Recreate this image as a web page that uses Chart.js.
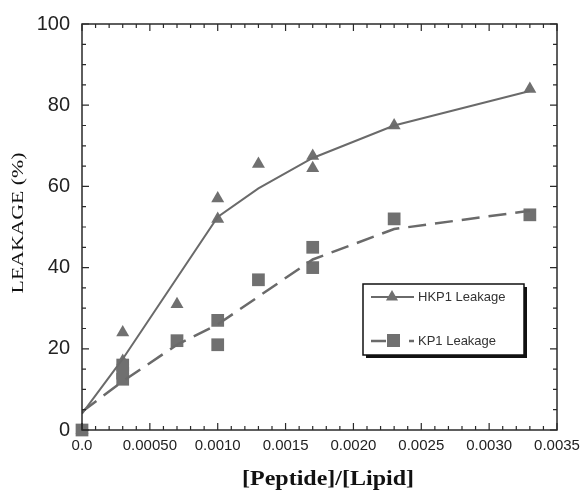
<!DOCTYPE html>
<html>
<head>
<meta charset="utf-8">
<title>Leakage</title>
<script src="https://cdn.jsdelivr.net/npm/chart.js@4.4.1/dist/chart.umd.min.js"></script>
<style>
  html, body { margin: 0; padding: 0; background: #fff; }
  #wrap { width: 584px; height: 490px; }
</style>
</head>
<body>
<div id="wrap"><canvas id="chart" width="584" height="490"></canvas></div>
<script>
// Data
const seriesNames = ["HKP1 Leakage", "KP1 Leakage"];

// HKP1 measured points (triangles)
const hkpX = [0, 0.0003, 0.0003, 0.0007, 0.0010, 0.0010, 0.0013, 0.0017, 0.0017, 0.0023, 0.0033];
const hkpY = [0, 24, 17, 31, 57, 52, 65.5, 67.5, 64.5, 75, 84];
// HKP1 curve (solid)
const hkpLineX = [0, 0.0003, 0.0010, 0.0013, 0.0017, 0.0023, 0.0033];
const hkpLineY = [4, 17.5, 52.5, 59.5, 67, 75, 83.5];

// KP1 measured points (squares)
const kpX = [0, 0.0003, 0.0003, 0.0003, 0.0007, 0.0010, 0.0010, 0.0013, 0.0017, 0.0017, 0.0023, 0.0033];
const kpY = [0, 16, 14, 12.5, 22, 27, 21, 37, 45, 40, 52, 53];
// KP1 curve (dashed)
const kpLineX = [0, 0.0003, 0.0007, 0.0010, 0.0017, 0.0023, 0.0033];
const kpLineY = [4.5, 12, 21, 26, 42, 49.5, 54];

const xTickLabels = ["0.0", "0.00050", "0.0010", "0.0015", "0.0020", "0.0025", "0.0030", "0.0035"];
const yTickLabels = ["0", "20", "40", "60", "80", "100"];

const xTitle = "[Peptide]/[Lipid]";
const yTitle = "LEAKAGE (%)";

const lineColor = "#6a6a6a";
const markColor = "#707070";
const frameColor = "#2a2a2a";

function toPoints(xs, ys) {
  return xs.map((x, i) => ({ x: x, y: ys[i] }));
}

// stretched text, the figure's fonts are wider than normal
function wideText(ctx, text, x, y, font, sx, rot) {
  ctx.save();
  ctx.translate(x, y);
  ctx.rotate(rot);
  ctx.scale(sx, 1);
  ctx.font = font;
  ctx.fillStyle = "#111";
  ctx.textAlign = "center";
  ctx.textBaseline = "alphabetic";
  ctx.fillText(text, 0, 0);
  ctx.restore();
}

function drawTri(ctx, x, y, r) {
  ctx.beginPath();
  ctx.moveTo(x, y - r);
  ctx.lineTo(x + r * 0.866, y + r * 0.5);
  ctx.lineTo(x - r * 0.866, y + r * 0.5);
  ctx.closePath();
  ctx.fill();
}

// frame, inward ticks, titles and legend
const decor = {
  id: "decor",
  afterDraw(chart) {
    const ctx = chart.ctx;
    const a = chart.chartArea;
    const xs = chart.scales.x, ys = chart.scales.y;

    ctx.save();
    ctx.strokeStyle = frameColor;
    ctx.lineWidth = 1.5;
    ctx.strokeRect(a.left, a.top, a.right - a.left, a.bottom - a.top);

    ctx.lineWidth = 1.2;
    ctx.beginPath();
    for (let i = 0; i <= 35; i++) {
      const px = xs.getPixelForValue(i * 0.0001);
      const len = i % 5 === 0 ? 7 : 4;
      ctx.moveTo(px, a.bottom); ctx.lineTo(px, a.bottom - len);
      ctx.moveTo(px, a.top); ctx.lineTo(px, a.top + len);
    }
    for (let i = 0; i <= 20; i++) {
      const py = ys.getPixelForValue(i * 5);
      const len = i % 4 === 0 ? 7 : 4;
      ctx.moveTo(a.left, py); ctx.lineTo(a.left + len, py);
      ctx.moveTo(a.right, py); ctx.lineTo(a.right - len, py);
    }
    ctx.stroke();
    ctx.restore();

    // axis titles
    wideText(ctx, xTitle, 328, 485, "bold 20px 'Liberation Serif', serif", 1.2, 0);
    wideText(ctx, yTitle, 23, 223, "16px 'Liberation Serif', serif", 1.36, -Math.PI / 2);

    // legend box with drop shadow
    const bx = 363, by = 284, bw = 161, bh = 71;
    ctx.save();
    ctx.fillStyle = "#111";
    ctx.fillRect(bx + 3, by + 3, bw, bh);
    ctx.fillStyle = "#fff";
    ctx.fillRect(bx, by, bw, bh);
    ctx.strokeStyle = "#111";
    ctx.lineWidth = 1.5;
    ctx.strokeRect(bx, by, bw, bh);

    // entry 1: solid line with triangle
    ctx.strokeStyle = lineColor;
    ctx.lineWidth = 2;
    ctx.beginPath();
    ctx.moveTo(371, 297); ctx.lineTo(414, 297);
    ctx.stroke();
    ctx.fillStyle = markColor;
    drawTri(ctx, 392, 297, 7);

    // entry 2: dashed line with square
    ctx.lineWidth = 2.5;
    ctx.beginPath();
    ctx.moveTo(371, 341); ctx.lineTo(386, 341);
    ctx.moveTo(409, 341); ctx.lineTo(414, 341);
    ctx.stroke();
    ctx.fillStyle = markColor;
    ctx.fillRect(387, 334, 13, 13);

    ctx.fillStyle = "#333";
    ctx.font = "13px 'Liberation Sans', Arial, sans-serif";
    ctx.textAlign = "left";
    ctx.textBaseline = "middle";
    ctx.fillText(seriesNames[0], 418, 297);
    ctx.fillText(seriesNames[1], 418, 341);
    ctx.restore();
  }
};

const chart = new Chart(document.getElementById("chart"), {
  type: "scatter",
  data: {
    datasets: [
      {
        label: seriesNames[0] + " fit",
        data: toPoints(hkpLineX, hkpLineY),
        showLine: true,
        borderColor: lineColor,
        borderWidth: 2,
        pointRadius: 0,
        fill: false,
        tension: 0
      },
      {
        label: seriesNames[1] + " fit",
        data: toPoints(kpLineX, kpLineY),
        showLine: true,
        borderColor: lineColor,
        borderWidth: 2.5,
        borderDash: [18, 9],
        pointRadius: 0,
        fill: false,
        tension: 0
      },
      {
        label: seriesNames[0],
        data: toPoints(hkpX, hkpY),
        pointStyle: "triangle",
        pointRadius: 7.5,
        backgroundColor: markColor,
        borderColor: markColor,
        borderWidth: 0,
        clip: 12
      },
      {
        label: seriesNames[1],
        data: toPoints(kpX, kpY),
        pointStyle: "rect",
        pointRadius: 9,
        backgroundColor: markColor,
        borderColor: markColor,
        borderWidth: 0,
        clip: 12
      }
    ]
  },
  options: {
    responsive: false,
    animation: false,
    devicePixelRatio: 1,
    layout: { padding: { top: 24, right: 27, bottom: 0, left: 0 } },
    plugins: {
      legend: { display: false },
      tooltip: { enabled: false }
    },
    scales: {
      x: {
        type: "linear",
        min: 0,
        max: 0.0035,
        grid: { display: false, tickLength: 0 },
        border: { display: false },
        afterFit: s => { s.height = 60; s.paddingLeft = 0; s.paddingRight = 0; },
        ticks: {
          stepSize: 0.0005,
          padding: 7,
          color: "#222",
          font: { family: "'Liberation Sans', Arial, sans-serif", size: 15 },
          maxRotation: 0,
          callback: (v, i) => xTickLabels[i]
        }
      },
      y: {
        min: 0,
        max: 100,
        grid: { display: false, tickLength: 0 },
        border: { display: false },
        afterFit: s => { s.width = 82; s.paddingTop = 0; s.paddingBottom = 0; },
        ticks: {
          stepSize: 20,
          padding: 12,
          color: "#222",
          font: { family: "'Liberation Sans', Arial, sans-serif", size: 20 },
          callback: (v, i) => yTickLabels[i]
        }
      }
    }
  },
  plugins: [decor]
});
</script>
</body>
</html>
